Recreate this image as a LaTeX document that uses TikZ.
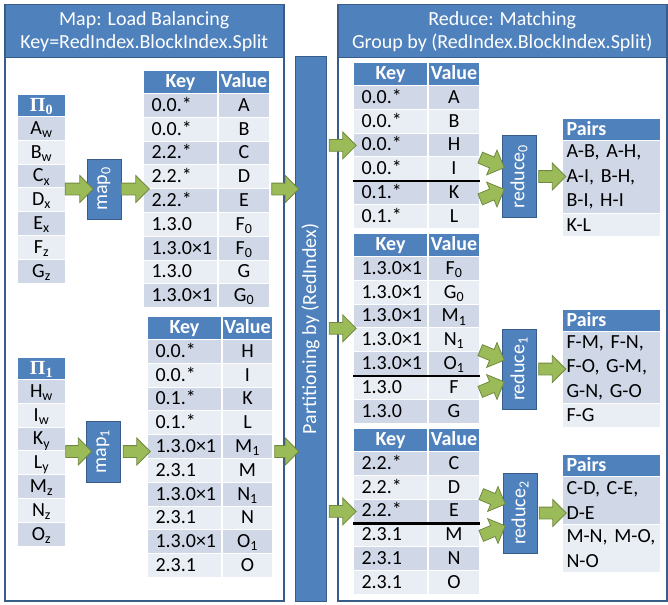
\documentclass[tikz,border=0pt]{standalone}
\usepackage{fontspec}
\setmainfont{Carlito}
\newfontfamily\pifont{Liberation Serif}
\usetikzlibrary{shapes.arrows,calc,positioning}

\definecolor{hdrblue}{HTML}{4F81BD}
\definecolor{edgeblue}{HTML}{385D8A}
\definecolor{rowdark}{HTML}{D0D8E8}
\definecolor{rowlight}{HTML}{E9EDF4}
\definecolor{arrowgreen}{HTML}{9BBB59}
\definecolor{arrowedge}{HTML}{71893F}

\newcommand\bigfont{\fontsize{20}{23}\selectfont}
\newcommand\pairfont{\fontsize{20}{24.5}\selectfont}

% name, x, y, key width, value width, rows
\newcommand\kvtable[6]{%
  \pgfmathsetmacro\kw{#4-16}
  \node[headcell, minimum width=#4pt] (#1h1) at (#2,#3) {Key};
  \node[headcell, minimum width=#5pt, right=0pt of #1h1] (#1h2) {Value};
  \foreach \k/\v [count=\i] in {#6} {
    \pgfmathtruncatemacro\rowpar{mod(\i,2)}
    \node[row\rowpar, keycell, text width=\kw pt] (#1k\i) at (#2,#3+23+23.8*\i-23.8) {\k};
    \node[row\rowpar, minimum width=#5pt, right=0pt of #1k\i] (#1v\i) {\v};
  }
}

% name, x, y, header, rows
\newcommand\pitable[5]{%
  \node[headcell, minimum width=48pt, minimum height=22pt] (#1h) at (#2,#3) {#4};
  \foreach \c [count=\i] in {#5} {
    \pgfmathtruncatemacro\rowpar{mod(\i,2)}
    \node[row\rowpar, minimum width=48pt] (#1r\i) at (#2,#3+22+23.8*\i-23.8) {\c};
  }
}

% name, x, y, first row height, first row, second row height, second row
\newcommand\pairtable[7]{%
  \node[headcell, keycell, inner xsep=4pt, text width=90pt, minimum height=22pt] (#1h) at (#2,#3) {Pairs};
  \node[paircell, fill=rowdark, minimum height=#4pt] (#1r1) at (#2,#3+22) {#5};
  \node[paircell, fill=rowlight, minimum height=#6pt] (#1r2) at (#2,#3+22+#4) {#7};
}

\begin{document}
\begin{tikzpicture}[x=1pt, y=-1pt, font=\bigfont,
  cell/.style={draw=white, line width=1pt, inner sep=0pt, anchor=north west, minimum height=23.8pt},
  oneline/.style={text height=13.8pt, text depth=2pt},
  headcell/.style={cell, oneline, fill=hdrblue, text=white, font=\bigfont\bfseries, minimum height=23pt},
  row1/.style={cell, oneline, fill=rowdark},
  row0/.style={cell, oneline, fill=rowlight},
  keycell/.style={align=left, inner xsep=8pt},
  paircell/.style={cell, align=left, inner xsep=4pt, text width=90pt, font=\pairfont},
  panelframe/.style={draw=edgeblue, line width=1.5pt, anchor=north west, inner sep=0pt},
  panelhead/.style={panelframe, fill=hdrblue, text=white, align=center},
  blockbox/.style={draw=edgeblue, fill=hdrblue, line width=1pt, inner sep=0pt},
  boxtext/.style={rotate=90, text=white, inner sep=0pt},
  garrow/.style={single arrow, draw=arrowedge, fill=arrowgreen, line width=0.8pt,
    minimum height=28pt, single arrow head extend=7.5pt,
    single arrow head indent=0pt, inner xsep=0pt, inner ysep=5.5pt},
  sepline/.style={line width=2.5pt, black}]

\useasboundingbox (0,0) rectangle (668,604);

% panels
\node[panelframe, minimum width=279pt, minimum height=596pt] (mappanel) at (4,4) {};
\node[panelhead, minimum width=279pt, minimum height=53pt] (maphead) at (4,4)
  {Map: Load Balancing\\Key=RedIndex.BlockIndex.Split};
\node[panelframe, minimum width=329pt, minimum height=596pt] (redpanel) at (337,4) {};
\node[panelhead, minimum width=329pt, minimum height=53pt] (redhead) at (337,4)
  {Reduce: Matching\\Group by (RedIndex.BlockIndex.Split)};

% partitioning bar
\node[blockbox, minimum width=31pt, minimum height=544pt] (bar) at (310.5,329) {};
\node[boxtext] (bartxt) at (bar.center) {Partitioning by (RedIndex)};

% map side
\pitable{pi0}{17}{94}{{\pifont\bfseries Π\textsubscript{0}}}{A\textsubscript{w}, B\textsubscript{w},
  C\textsubscript{x}, D\textsubscript{x}, E\textsubscript{x}, F\textsubscript{z}, G\textsubscript{z}}
\pitable{pi1}{17}{357}{{\pifont\bfseries Π\textsubscript{1}}}{H\textsubscript{w}, I\textsubscript{w},
  K\textsubscript{y}, L\textsubscript{y}, M\textsubscript{z}, N\textsubscript{z}, O\textsubscript{z}}

\node[blockbox, minimum width=34pt, minimum height=60pt] (map0) at (104,189) {};
\node[boxtext] (map0txt) at (map0.center) {map\textsubscript{0}};
\node[blockbox, minimum width=34pt, minimum height=61pt] (map1) at (103,451.5) {};
\node[boxtext] (map1txt) at (map1.center) {map\textsubscript{1}};

\kvtable{kv0}{143}{70}{74}{51}{0.0.*/A, 0.0.*/B, 2.2.*/C, 2.2.*/D, 2.2.*/E,
  1.3.0/F\textsubscript{0}, 1.3.0×1/F\textsubscript{0}, 1.3.0/G, 1.3.0×1/G\textsubscript{0}}
\kvtable{kv1}{147}{316}{74}{50}{0.0.*/H, 0.0.*/I, 0.1.*/K, 0.1.*/L, 1.3.0×1/M\textsubscript{1},
  2.3.1/M, 1.3.0×1/N\textsubscript{1}, 2.3.1/N, 1.3.0×1/O\textsubscript{1}, 2.3.1/O}

% reduce side
\kvtable{r0}{353}{62}{74}{51}{0.0.*/A, 0.0.*/B, 0.0.*/H, 0.0.*/I, 0.1.*/K, 0.1.*/L}
\kvtable{r1}{353}{233}{74}{51}{1.3.0×1/F\textsubscript{0}, 1.3.0×1/G\textsubscript{0},
  1.3.0×1/M\textsubscript{1}, 1.3.0×1/N\textsubscript{1}, 1.3.0×1/O\textsubscript{1}, 1.3.0/F, 1.3.0/G}
\kvtable{r2}{353}{428}{74}{51}{2.2.*/C, 2.2.*/D, 2.2.*/E, 2.3.1/M, 2.3.1/N, 2.3.1/O}

\draw[sepline] (r0k4.south west) -- (r0v4.south east);
\draw[sepline] (r1k5.south west) -- (r1v5.south east);
\draw[sepline] (r2k3.south west) -- (r2v3.south east);

\node[blockbox, minimum width=34pt, minimum height=81pt] (red0) at (519,176.5) {};
\node[boxtext] (red0txt) at (red0.center) {reduce\textsubscript{0}};
\node[blockbox, minimum width=34pt, minimum height=80pt] (red1) at (519,369) {};
\node[boxtext] (red1txt) at (red1.center) {reduce\textsubscript{1}};
\node[blockbox, minimum width=34pt, minimum height=80pt] (red2) at (520,513) {};
\node[boxtext] (red2txt) at (red2.center) {reduce\textsubscript{2}};

\pairtable{p0}{562}{118}{73}{A-B, A-H,\\A-I, B-H,\\B-I, H-I}{23}{K-L}
\pairtable{p1}{562}{309}{72}{F-M, F-N,\\F-O, G-M,\\G-N, G-O}{24}{F-G}
\pairtable{p2}{562}{454}{48}{C-D, C-E,\\D-E}{48}{M-N, M-O,\\N-O}

% arrows
\node[garrow] (a0) at ($(pi0h.east |- map0.west)!0.5!(map0.west)$) {};
\node[garrow] (a1) at ($(map0.east)!0.5!(kv0k1.west |- map0.east)$) {};
\node[garrow, minimum height=27pt] (a2) at ($(kv0v1.east |- map0.east)!0.5!(bar.west |- map0.east)$) {};
\node[garrow, minimum height=26pt] (b0) at ($(pi1h.east |- map1.west)!0.5!(map1.west)$) {};
\node[garrow, minimum height=27pt] (b1) at ($(map1.east)!0.5!(kv1k1.west |- map1.east)$) {};
\node[garrow, minimum height=24pt] (b2) at ($(kv1v1.east |- map1.east)!0.5!(bar.west |- map1.east)$) {};

\coordinate (r0mid) at ($(r0h1.north west)!0.5!(r0k6.south west)$);
\coordinate (r1mid) at ($(r1h1.north west)!0.5!(r1k7.south west)$);
\coordinate (r2mid) at ($(r2h1.north west)!0.5!(r2k6.south west)$);
\node[garrow, minimum height=27pt] (c0) at ($(bar.east |- r0mid)!0.5!(r0mid)$) {};
\node[garrow, minimum height=27pt] (c1) at ($(bar.east |- r1mid)!0.5!(r1mid)$) {};
\node[garrow, minimum height=27pt] (c2) at ($(bar.east |- r2mid)!0.5!(r2mid)$) {};

\foreach \r in {0,1,2} {
  \node[garrow, minimum height=26pt, rotate=-22.6] (d\r u) at ($(red\r.west)+(-12,-15)$) {};
  \node[garrow, minimum height=26pt, rotate=22.6] (d\r l) at ($(red\r.west)+(-12,19)$) {};
  \node[garrow, minimum height=27pt] (e\r) at ($(red\r.east)!0.5!(p\r h.west |- red\r.east)$) {};
}
\end{tikzpicture}
\end{document}
